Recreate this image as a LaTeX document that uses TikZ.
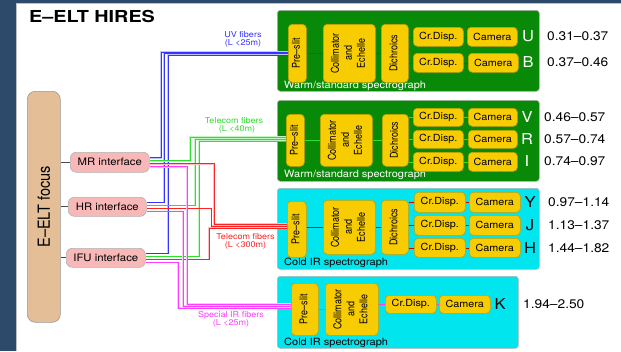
\documentclass[tikz,border=0pt]{standalone}
\usepackage{fontspec}
\usepackage{graphicx}
\setmainfont{TeX Gyre Heros}[FakeStretch=1.1]
\newfontfamily\rotfont{TeX Gyre Heros}
\newfontfamily\titlefont{TeX Gyre Heros}[FakeStretch=1.2]
\usetikzlibrary{calc}
\definecolor{bgdark}{HTML}{2E4A6A}
\definecolor{specgreen}{HTML}{088A08}
\definecolor{speccyan}{HTML}{00E5EE}
\definecolor{compyellow}{HTML}{F7CC00}
\definecolor{compborder}{HTML}{C9A000}
\definecolor{focustan}{HTML}{E3BE96}
\definecolor{ifpink}{HTML}{F8B8B8}
\definecolor{fblue}{HTML}{3434FF}
\definecolor{fgreen}{HTML}{2EE02E}
\definecolor{fred}{HTML}{FF2222}
\definecolor{fmag}{HTML}{FF3CFF}
\newcommand\fs[2]{\fontsize{#1}{#2}\selectfont}
\newcommand\bx[7]{\node[#1,anchor=north west,minimum width={(#5-#3)*1pt},minimum height={(#6-#4)*1pt}] (#2) at (#3,#4) {#7};}
\newcommand\rt[1]{\rotatebox{90}{\scalebox{1}[1.2]{\rotfont\fs{9}{10.8}\begin{tabular}{@{}c@{}}#1\end{tabular}}}}
\tikzset{
  comp/.style={draw=compborder, fill=compyellow, rounded corners=4pt, line width=0.6pt, inner sep=0pt, font=\fs{9.8}{11}},
  iface/.style={draw=black!30, fill=ifpink, rounded corners=6pt, line width=0.6pt, inner sep=0pt, font=\fs{10.3}{12}},
  focusst/.style={draw=black!40, fill=focustan, rounded corners=8pt, line width=0.6pt, inner sep=0pt},
  specG/.style={draw=black!30, fill=specgreen, rounded corners=3pt, line width=0.6pt, inner sep=0pt},
  specC/.style={draw=black!30, fill=speccyan, rounded corners=3pt, line width=0.6pt, inner sep=0pt},
  speclab/.style={anchor=base west, inner sep=0pt, font=\fs{10}{12}},
  band/.style={inner sep=0pt, font=\fs{15}{17}},
  rangelab/.style={anchor=west, inner sep=0pt, font=\fs{12.5}{14}},
  fiblab/.style={align=center, inner sep=0pt, font=\fs{8.2}{8}},
  fibB/.style={draw=fblue, line width=0.7pt, preaction={draw=fblue!30, line width=1.6pt}},
  fibG/.style={draw=fgreen, line width=0.7pt, preaction={draw=fgreen!30, line width=1.6pt}},
  fibR/.style={draw=fred, line width=0.7pt, preaction={draw=fred!30, line width=1.6pt}},
  fibM/.style={draw=fmag, line width=0.7pt, preaction={draw=fmag!30, line width=1.6pt}},
  inl/.style={line width=0.6pt},
}
\begin{document}
\begin{tikzpicture}[x=1pt,y=-1pt]
\useasboundingbox (0,0) rectangle (621,351);
\fill[bgdark] (0,0) rectangle (621,351);
\fill[white] (16,3) rectangle (621,351);
\draw[black!25, line width=1pt] (16,351) -- (16,3) -- (621,3);

\node[anchor=base west, inner sep=0pt, font=\titlefont\bfseries\fs{16.5}{18}] (title) at (29,22) {E–ELT HIRES};

% focus and interfaces
\bx{focusst}{focus}{27}{91}{60}{322}{\rotatebox{90}{\scalebox{1}[1.15]{\rotfont\fs{14.5}{16}E–ELT focus}}}
\bx{iface}{mr}{70}{152}{149}{172}{MR interface}
\bx{iface}{hr}{68}{197}{146}{216}{HR interface}
\bx{iface}{ifu}{66}{248}{145}{267}{IFU interface}
\draw[black!70, line width=0.7pt] (focus.east |- mr.west) -- (mr.west);
\draw[black!70, line width=0.7pt] (focus.east |- hr.west) -- (hr.west);
\draw[black!70, line width=0.7pt] (focus.east |- ifu.west) -- (ifu.west);

% spectrograph boxes
\bx{specG}{spec1}{277}{10}{539}{91}{}
\bx{specG}{spec2}{277}{100}{539}{181}{}
\bx{specC}{spec3}{277}{188}{539}{269}{}
\bx{specC}{spec4}{277}{276}{518}{348}{}
\node[speclab, text=white] (lab1) at (284,88) {Warm/standard spectrograph};
\node[speclab, text=white] (lab2) at (284,177.5) {Warm/standard spectrograph};
\node[speclab] (lab3) at (284,265) {Cold IR spectrograph};
\node[speclab] (lab4) at (284,345) {Cold IR spectrograph};

% box 1
\bx{comp}{pre1}{288}{24}{306}{82}{\rt{Pre–slit}}
\bx{comp}{coll1}{323}{24}{375}{82}{\rt{Collimator\\and\\Echelle}}
\bx{comp}{dich1}{381}{24}{408}{82}{\rt{Dichroics}}
\bx{comp}{cdU}{413}{27}{463}{46}{Cr.Disp.}
\bx{comp}{camU}{467}{27}{517}{46}{Camera}
\bx{comp}{cdB}{413}{53}{463}{72}{Cr.Disp.}
\bx{comp}{camB}{468}{53}{518}{72}{Camera}
% box 2
\bx{comp}{pre2}{286}{114}{304}{166}{\rt{Pre–slit}}
\bx{comp}{coll2}{320}{114}{372}{166}{\rt{Collimator\\and\\Echelle}}
\bx{comp}{dich2}{382}{114}{408}{166}{\rt{Dichroics}}
\bx{comp}{cdV}{413}{108}{463}{126}{Cr.Disp.}
\bx{comp}{camV}{468}{108}{517}{126}{Camera}
\bx{comp}{cdR}{413}{130}{463}{148}{Cr.Disp.}
\bx{comp}{camR}{468}{130}{517}{148}{Camera}
\bx{comp}{cdI}{413}{152}{463}{171}{Cr.Disp.}
\bx{comp}{camI}{468}{152}{517}{171}{Camera}
% box 3
\bx{comp}{pre3}{287}{201}{306}{257}{\rt{Pre–slit}}
\bx{comp}{coll3}{323}{200}{375}{254}{\rt{Collimator\\and\\Echelle}}
\bx{comp}{dich3}{381}{200}{408}{254}{\rt{Dichroics}}
\bx{comp}{cdY}{414}{192}{465}{212}{Cr.Disp.}
\bx{comp}{camY}{469}{192}{520}{212}{Camera}
\bx{comp}{cdJ}{414}{215}{465}{235}{Cr.Disp.}
\bx{comp}{camJ}{469}{215}{520}{235}{Camera}
\bx{comp}{cdH}{414}{238}{465}{257}{Cr.Disp.}
\bx{comp}{camH}{469}{238}{520}{257}{Camera}
% box 4
\bx{comp}{pre4}{291}{283}{318}{335}{\rt{Pre–slit}}
\bx{comp}{coll4}{325}{283}{378}{335}{\rt{Collimator\\and\\Echelle}}
\bx{comp}{cdK}{385}{295}{436}{313}{Cr.Disp.}
\bx{comp}{camK}{439}{295}{490}{313}{Camera}

% internal connectors
\draw[inl, fblue] (pre1) -- (coll1);
\draw[inl, fblue] (coll1) -- (dich1);
\draw[inl, fblue] (dich1.east |- cdU.west) -- (cdU.west);
\draw[inl, fblue] (dich1.east |- cdB.west) -- (cdB.west);
\draw[inl, fblue] (cdU.east) -- (camU.west |- cdU.east);
\draw[inl, fblue] (cdB.east) -- (camB.west |- cdB.east);
\draw[inl, fgreen] (pre2) -- (coll2);
\draw[inl, fgreen] (coll2) -- (dich2);
\draw[inl, fgreen] (dich2.east |- cdV.west) -- (cdV.west);
\draw[inl, fgreen] (dich2.east |- cdR.west) -- (cdR.west);
\draw[inl, fgreen] (dich2.east |- cdI.west) -- (cdI.west);
\draw[inl, fgreen] (cdV.east) -- (camV.west |- cdV.east);
\draw[inl, fgreen] (cdR.east) -- (camR.west |- cdR.east);
\draw[inl, fgreen] (cdI.east) -- (camI.west |- cdI.east);
\draw[inl, red!80!black] (pre3.east |- coll3.west) -- (coll3.west);
\draw[inl, red!80!black] (coll3) -- (dich3);
\draw[inl, red!80!black] (dich3.north east |- cdY.west) -- (cdY.west);
\draw[inl, red!80!black] (dich3.east |- cdJ.west) -- (cdJ.west);
\draw[inl, red!80!black] (dich3.east |- cdH.west) -- (cdH.west);
\draw[inl, red!80!black] (cdY.east) -- (camY.west |- cdY.east);
\draw[inl, red!80!black] (cdJ.east) -- (camJ.west |- cdJ.east);
\draw[inl, red!80!black] (cdH.east) -- (camH.west |- cdH.east);
\draw[inl, fmag] (pre4) -- (coll4);
\draw[inl, fmag] (coll4.east |- cdK.west) -- (cdK.west);
\draw[inl, fmag] (cdK) -- (camK);

% fibers: blue
\draw[fibB] ($(mr.east)+(0,-4.5)$) -| (161,52) -- (pre1.west |- 0,52);
\draw[fibB] ($(hr.east)+(0,-4.5)$) -| (164,53.5) -- (pre1.west |- 0,53.5);
\draw[fibB] ($(ifu.east)+(0,-4.5)$) -| (168,55) -- (pre1.west |- 0,55);
% green
\draw[fibG] ($(mr.east)+(0,-1.5)$) -| (190,137) -- (pre2.west |- 0,137);
\draw[fibG] ($(hr.east)+(0,-1.5)$) -| (195,139) -- (pre2.west |- 0,139);
\draw[fibG] ($(ifu.east)+(0,-1.5)$) -| (199,141) -- (pre2.west |- 0,141);
% red
\draw[fibR] ($(mr.east)+(0,1.5)$) -| (214,224) -- (pre3.west |- 0,224);
\draw[fibR] ($(hr.east)+(0,1.5)$) -| (211.5,226) -- (pre3.west |- 0,226);
\draw[fibR] ($(ifu.east)+(0,1.5)$) -| (209,228) -- (pre3.west |- 0,228);
% magenta
\draw[fibM] ($(mr.east)+(0,4.5)$) -| (187,304) -- (pre4.west |- 0,304);
\draw[fibM] ($(hr.east)+(0,4.5)$) -| (183,306) -- (pre4.west |- 0,306);
\draw[fibM] ($(ifu.east)+(0,4.5)$) -| (178,308) -- (pre4.west |- 0,308);

% fiber labels
\node[fiblab, text=fblue] (uvlab) at (243,39.5) {UV fibers\\(L <25m)};
\node[fiblab, text=fgreen] (tglab) at (234,125) {Telecom fibers\\\hspace*{6pt}(L <40m)};
\node[fiblab, text=fred] (trlab) at (245.5,241.5) {Telecom fibers\\(L <300m)};
\node[fiblab, text=fmag] (silab) at (231,319) {Special IR fibers\\(L <25m)};

% band letters
\node[band, text=white] (bU) at (528,36) {U};
\node[band, text=white] (bB) at (528,62) {B};
\node[band, text=white] (bV) at (527,117) {V};
\node[band, text=white] (bR) at (527,139) {R};
\node[band, text=white] (bI) at (527,161) {I};
\node[band] (bY) at (530,202) {Y};
\node[band] (bJ) at (530,225) {J};
\node[band] (bH) at (530,248) {H};
\node[band] (bK) at (500,304) {K};
% ranges
\node[rangelab] (rU) at (547,36) {0.31–0.37};
\node[rangelab] (rB) at (547,62) {0.37–0.46};
\node[rangelab] (rV) at (544,117) {0.46–0.57};
\node[rangelab] (rR) at (544,139) {0.57–0.74};
\node[rangelab] (rI) at (544,161) {0.74–0.97};
\node[rangelab] (rY) at (548,202) {0.97–1.14};
\node[rangelab] (rJ) at (548,225) {1.13–1.37};
\node[rangelab] (rH) at (548,248) {1.44–1.82};
\node[rangelab] (rK) at (523,304) {1.94–2.50};
\end{tikzpicture}
\end{document}
